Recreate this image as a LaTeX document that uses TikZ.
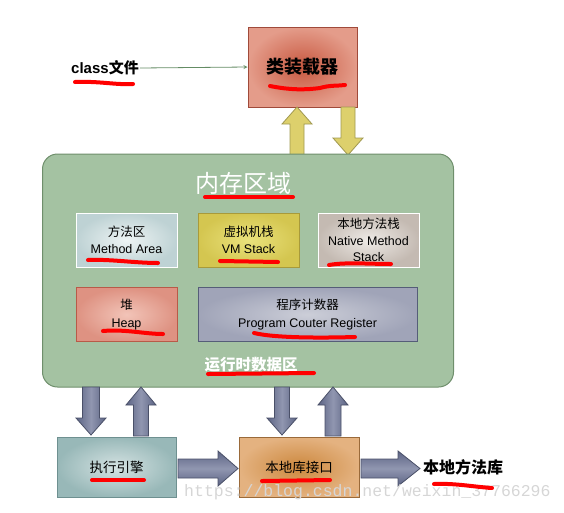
\documentclass[tikz,border=0pt]{standalone}
\usepackage{fontspec}
\setmainfont{Liberation Sans}
\newfontfamily\cjk{Noto Sans CJK SC}
\newfontfamily\wmfont{Liberation Mono}
\definecolor{slateD}{HTML}{5C6484}
\definecolor{slateL}{HTML}{9096B0}
\definecolor{slateB}{HTML}{4A5068}
\definecolor{yelA}{HTML}{DDD06C}
\definecolor{yelB}{HTML}{A09850}
\definecolor{greenF}{HTML}{A4C2A2}
\definecolor{greenB}{HTML}{6F8F6C}
\newcommand\blockup[6]{% xc, tip, headbase, bottom, shafthalf, headhalf
  (#1-#5,#4) -- (#1-#5,#3) -- (#1-#6,#3) -- (#1,#2) -- (#1+#6,#3) -- (#1+#5,#3) -- (#1+#5,#4) -- cycle}
\newcommand\blockright[6]{% yc, tip, headbase, left, shafthalf, headhalf
  (#4,#1-#5) -- (#3,#1-#5) -- (#3,#1-#6) -- (#2,#1) -- (#3,#1+#6) -- (#3,#1+#5) -- (#4,#1+#5) -- cycle}
\begin{document}
\begin{tikzpicture}[x=1pt,y=-1pt,
  box/.style={draw, line width=1pt, minimum width=101pt, minimum height=54pt,
    align=center, inner sep=0pt, font=\fontsize{12.5}{16.5}\selectfont},
  bigbox/.style={draw, line width=1pt, minimum width=119pt, minimum height=60pt,
    align=center, inner sep=0pt, font=\fontsize{13.5}{16}\selectfont},
  redline/.style={draw=red, line width=4pt, line cap=round},
  slatev/.style={draw=slateB, line width=0.8pt, left color=slateD, right color=slateD, middle color=slateL},
  slateh/.style={draw=slateB, line width=0.8pt, top color=slateD, bottom color=slateD, middle color=slateL},
  yelarrow/.style={draw=yelB, line width=0.8pt, fill=yelA},
  plain/.style={inner sep=0pt}
]
\useasboundingbox (0,0) rectangle (564,512);

% class file and loader
\node[plain, font=\bfseries\fontsize{15}{18}\selectfont] (cls) at (105,68) {class{\cjk\bfseries 文件}};
\node[draw={rgb,255:red,160;green,74;blue,58}, line width=1pt, minimum width=109pt, minimum height=80pt,
  inner color={rgb,255:red,200;green,88;blue,64}, outer color={rgb,255:red,228;green,156;blue,138},
  font=\cjk\bfseries\fontsize{18}{20}\selectfont] (loader) at (302.5,67) {类装载器};
\draw[-stealth, draw={rgb,255:red,100;green,140;blue,100}, line width=0.8pt] ([xshift=1pt]cls.east) -- (loader.west);

% yellow arrows
\path[yelarrow] \blockup{297}{107}{124}{155}{7}{15};
\path[yelarrow] \blockup{348}{155}{138}{107}{7}{15};

% memory area
\node[draw=greenB, fill=greenF, line width=1pt, rounded corners=15pt,
  minimum width=411pt, minimum height=233pt] (mem) at (248,270.5) {};
\node[plain, text=white, font=\cjk\fontsize{24}{26}\selectfont] (memtitle) at (243,183) {内存区域};

\node[box, draw=white, inner color={rgb,255:red,238;green,244;blue,244}, outer color={rgb,255:red,190;green,210;blue,212}]
  (ma) at (126.5,240) {{\cjk 方法区}\\[1pt]Method Area};
\node[box, draw={rgb,255:red,168;green,154;blue,58}, inner color={rgb,255:red,234;green,226;blue,124}, outer color={rgb,255:red,212;green,198;blue,80}]
  (vm) at (248.5,240) {{\cjk 虚拟机栈}\\[1pt]VM Stack};
\node[box, draw=white, inner color={rgb,255:red,238;green,234;blue,230}, outer color={rgb,255:red,196;green,186;blue,178}]
  (ns) at (368.5,240) {{\cjk 本地方法栈}\\Native Method\\Stack};
\node[box, draw={rgb,255:red,184;green,90;blue,72}, inner color={rgb,255:red,242;green,196;blue,184}, outer color={rgb,255:red,222;green,146;blue,130}]
  (heap) at (126.5,314.5) {{\cjk 堆}\\[1pt]Heap};
\node[box, minimum width=219pt, draw={rgb,255:red,85;green,93;blue,120}, inner color={rgb,255:red,204;green,206;blue,216}, outer color={rgb,255:red,160;green,164;blue,184}]
  (pc) at (307.5,314.5) {{\cjk 程序计数器}\\[1pt]Program Couter Register};
\node[plain, text=white, font=\cjk\bfseries\fontsize{15.5}{18}\selectfont] (rt) at (251,365) {运行时数据区};

% bottom arrows
\path[slatev] \blockup{91}{435}{418}{387}{8.5}{15};
\path[slatev] \blockup{141}{387}{405}{436}{7.5}{15};
\path[slatev] \blockup{282}{435}{418}{387}{7.5}{15};
\path[slatev] \blockup{333}{387}{405}{436}{8}{15};

% engine and native interface
\node[bigbox, draw={rgb,255:red,110;green,144;blue,144}, inner color={rgb,255:red,212;green,226;blue,226}, outer color={rgb,255:red,152;green,184;blue,184}]
  (eng) at (116.5,467) {\cjk 执行引擎};
\node[bigbox, minimum width=120pt, draw={rgb,255:red,154;green,106;blue,58}, inner color={rgb,255:red,204;green,136;blue,62}, outer color={rgb,255:red,228;green,178;blue,128}]
  (nif) at (299,467) {\cjk 本地库接口};
\node[plain, font=\cjk\bfseries\fontsize{16}{18}\selectfont] (nlib) at (463,467) {本地方法库};

\path[slateh] \blockright{468.5}{238}{218}{178}{9.5}{17.5};
\path[slateh] \blockright{468.5}{420}{398}{361}{9.5}{17.5};

% watermark
\node[plain, anchor=west, text={rgb,255:red,214;green,214;blue,214}, font=\wmfont\fontsize{16.5}{18}\selectfont] (wm) at (184,492) {https://blog.csdn.net/weixin\_37766296};

% red underlines
\draw[redline] (75,82) .. controls (100,81) and (115,85) .. (133,84);
\draw[redline] (270,86) .. controls (290,90) and (305,90) .. (320,88) .. controls (330,85) and (338,86) .. (345,85);
\draw[redline] (205,197) -- (293,197);
\draw[redline] (88,260) .. controls (110,259) and (135,263) .. (158,263);
\draw[redline] (220,261) -- (278,262);
\draw[redline] (329,265) .. controls (345,262) and (370,264) .. (391,264);
\draw[redline] (103,331) .. controls (125,329) and (145,334) .. (163,334);
\draw[redline] (254,333) .. controls (275,338) and (320,338) .. (355,337);
\draw[redline] (208,374) -- (314,373);
\draw[redline] (92,480) -- (144,480);
\draw[redline] (262,481) -- (330,480);
\draw[redline] (434,484) .. controls (455,483) and (475,487) .. (492,488);
\end{tikzpicture}
\end{document}
